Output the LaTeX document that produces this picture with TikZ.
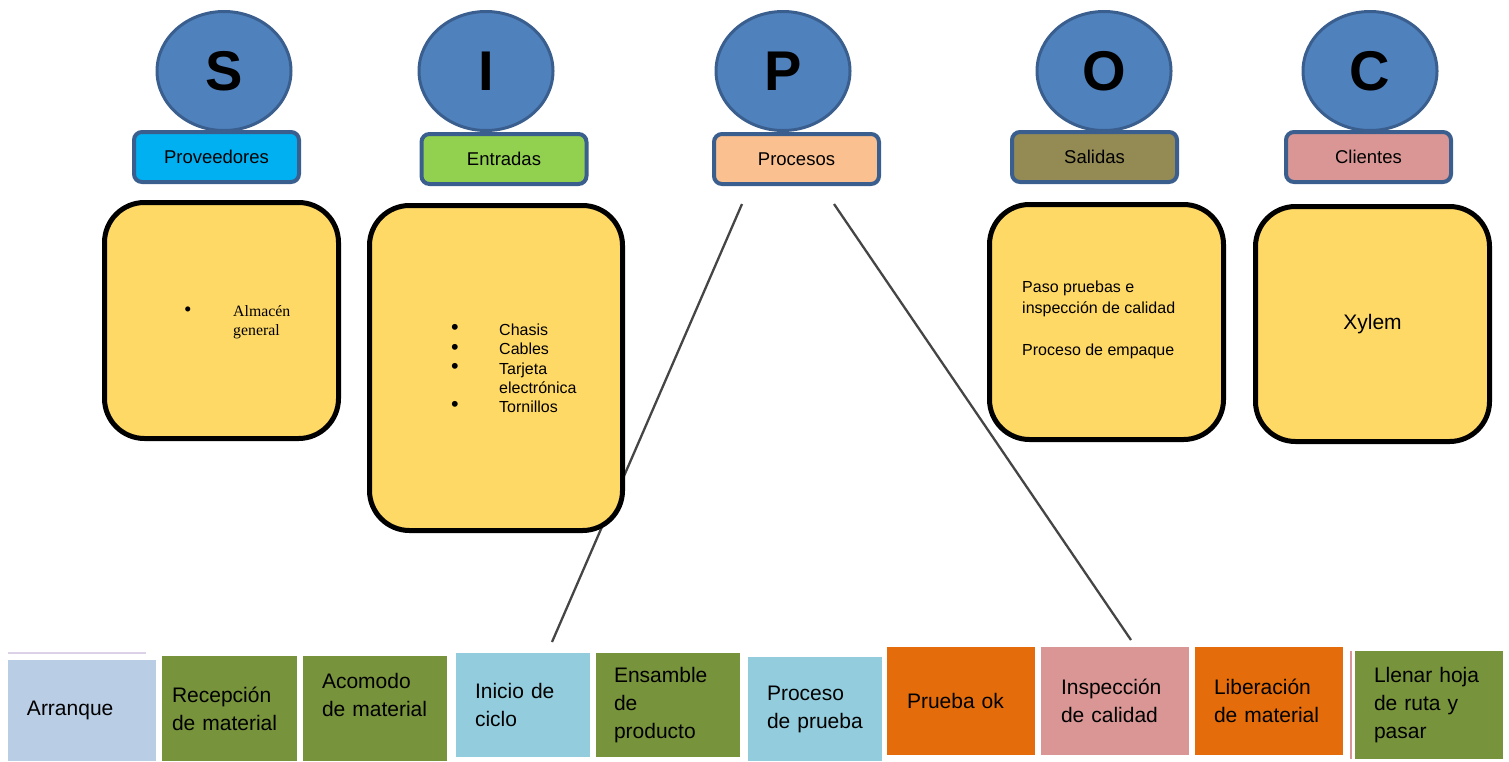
\documentclass[tikz,border=0pt]{standalone}
\usepackage{fontspec}
\setmainfont{Liberation Sans}
\newfontfamily\serifrm{Liberation Serif}
\usetikzlibrary{shapes.geometric}
\definecolor{letterblue}{HTML}{4F81BD}
\definecolor{edgeblue}{HTML}{3A5F8E}
\definecolor{cardyellow}{HTML}{FFD966}
\definecolor{skyblue}{HTML}{00B0F0}
\definecolor{leafgreen}{HTML}{92D050}
\definecolor{peach}{HTML}{FAC090}
\definecolor{khaki}{HTML}{948A54}
\definecolor{rose}{HTML}{D99694}
\definecolor{greyblue}{HTML}{B9CDE5}
\definecolor{olive}{HTML}{77933C}
\definecolor{aqua}{HTML}{93CDDD}
\definecolor{tangerine}{HTML}{E46C0A}
\definecolor{linegray}{HTML}{454545}
\newcommand{\dotmark}{\raisebox{0.1ex}{\scalebox{1.35}{\textbullet}}}

\begin{document}
\begin{tikzpicture}[x=1pt, y=-1pt,
    letter/.style={ellipse, draw=edgeblue, fill=letterblue, line width=3pt, minimum width=134pt, minimum height=119pt, inner sep=0pt, font=\fontsize{56}{60}\selectfont\bfseries},
    tag/.style={rectangle, rounded corners=8pt, draw=edgeblue, line width=4pt, minimum width=165pt, minimum height=50pt, font=\fontsize{18.5}{22}\selectfont},
    card/.style={rectangle, rounded corners=40pt, draw=black, line width=5pt, fill=cardyellow, minimum width=234pt},
    stepbox/.style={rectangle, inner sep=0pt, align=left, font=\fontsize{21}{28}\selectfont},
    link/.style={draw=linegray, line width=2.3pt}]
    \useasboundingbox (0, 0) rectangle (1509, 761);

    \coordinate (pa) at (742, 204);
    \coordinate (pb) at (552, 642);
    \coordinate (pc) at (834, 204);
    \coordinate (pd) at (1131, 640);
    \draw[link] (pa) -- (pb);
    \draw[link] (pc) -- (pd);

    \node[letter] (s) at (224, 71) {S};
    \node[letter] (i) at (486, 71) {I};
    \node[letter] (p) at (783, 71) {P};
    \node[letter] (o) at (1104, 71) {O};
    \node[letter] (c) at (1370, 71) {C};

    \node[tag, fill=skyblue] (proveedores) at (216.5, 157) {Proveedores};
    \node[tag, fill=leafgreen] (entradas) at (504, 159) {Entradas};
    \node[tag, fill=peach] (procesos) at (796.5, 159) {Procesos};
    \node[tag, fill=khaki] (salidas) at (1094.5, 157) {Salidas};
    \node[tag, fill=rose] (clientes) at (1368.5, 157) {Clientes};

    \node[card, minimum height=236pt] (scard) at (221.5, 320.5) {};
    \node[card, minimum width=253pt, minimum height=325pt] (icard) at (496, 368) {};
    \node[card, minimum height=235pt] (ocard) at (1106.5, 322) {};
    \node[card, minimum height=235pt, font=\fontsize{21}{25}\selectfont] (ccard) at (1372.5, 324) {Xylem};

    \node[anchor=west, align=left, inner sep=0pt, font=\serifrm\fontsize{15.8}{19}\selectfont] (almacen) at (184, 322.5)
        {\makebox[49pt][l]{\dotmark}Almac\'en\\\hspace*{49pt}general};
    \node[anchor=west, align=left, inner sep=0pt, font=\fontsize{16}{19.25}\selectfont] (insumos) at (451, 368.5)
        {\makebox[48pt][l]{\dotmark}Chasis\\\makebox[48pt][l]{\dotmark}Cables\\\makebox[48pt][l]{\dotmark}Tarjeta\\\hspace*{48pt}electr\'onica\\\makebox[48pt][l]{\dotmark}Tornillos};
    \node[anchor=west, align=left, inner sep=0pt, font=\fontsize{16}{21}\selectfont] (productos) at (1022, 319.5)
        {Paso pruebas e\\inspecci\'on de calidad\\[21pt]Proceso de empaque};

    \node[stepbox, fill=greyblue, minimum width=148pt, minimum height=101pt, text width=110pt] (arranque) at (82, 710.5) {\raisebox{-4pt}{Arranque}};
    \node[stepbox, fill=olive, minimum width=135pt, minimum height=105pt, text width=115pt] (recepcion) at (229.5, 708.5) {Recepci\'on\\de material};
    \node[stepbox, fill=olive, minimum width=144pt, minimum height=105pt, text width=106pt] (acomodo) at (375, 708.5) {Acomodo\\de material\\\mbox{}};
    \node[stepbox, fill=aqua, minimum width=134pt, minimum height=104pt, text width=96pt] (inicio) at (523, 705) {Inicio de\\ciclo};
    \node[stepbox, fill=olive, minimum width=144pt, minimum height=104pt, text width=108pt] (ensamble) at (668, 705) {Ensamble\\de\\producto};
    \node[stepbox, fill=aqua, minimum width=134pt, minimum height=104pt, text width=96pt] (probar) at (815, 709) {Proceso\\de prueba};
    \node[stepbox, fill=tangerine, minimum width=148pt, minimum height=108pt, text width=108pt] (pruebaok) at (961, 701) {Prueba ok};
    \node[stepbox, fill=rose, minimum width=148pt, minimum height=108pt, text width=108pt] (inspeccion) at (1115, 701) {Inspecci\'on\\de calidad};
    \node[stepbox, fill=tangerine, minimum width=148pt, minimum height=108pt, text width=110pt] (liberacion) at (1269, 701) {Liberaci\'on\\de material};
    \node[stepbox, fill=olive, minimum width=148pt, minimum height=108pt, text width=110pt] (llenar) at (1429, 705) {Llenar hoja\\de ruta y\\pasar};

    \draw[draw=greyblue!70!violet!40, line width=2pt] ([yshift=7pt]arranque.north west) -- ([xshift=-10pt, yshift=7pt]arranque.north east);
    \draw[draw=rose, line width=1.5pt] ([xshift=-4pt]llenar.north west) -- ([xshift=-4pt]llenar.south west);
\end{tikzpicture}
\end{document}
